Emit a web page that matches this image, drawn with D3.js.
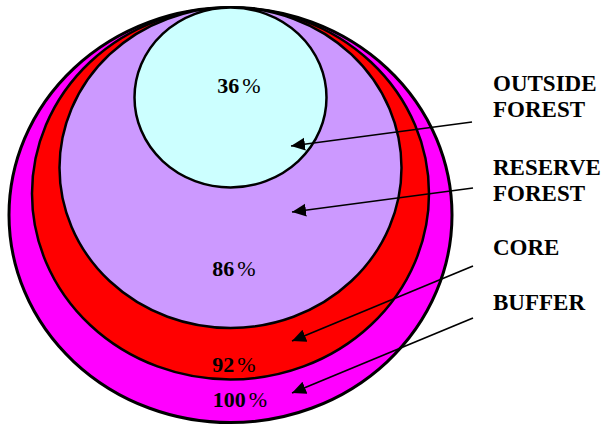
<!DOCTYPE html>
<html>
<head>
<meta charset="utf-8">
<script src="https://cdn.jsdelivr.net/npm/d3@7"></script>
<style>
  body { margin: 0; background: #ffffff; }
  svg { display: block; }
</style>
</head>
<body>
<div class="chart"></div>
<script>
// data
var categories = ["BUFFER", "CORE", "RESERVE FOREST", "OUTSIDE FOREST"];
var values = [100, 92, 86, 36];
var colors = ["#ff00ff", "#ff0000", "#cc99ff", "#ccffff"];
var labelLines = [["BUFFER"], ["CORE"], ["RESERVE", "FOREST"], ["OUTSIDE", "FOREST"]];

var width = 606, height = 428;
var cx = 230.5, topY = 7.5, aspect = 0.937;

// radius scale (nested circles, all touching at the top)
var r = d3.scaleLinear()
    .domain([36, 86, 92, 100])
    .range([96, 171, 198.5, 221.5]);

// annotation layout: label baseline, arrow start / tip, value text
var layout = [
  { labelY: 310, from: [473, 318], to: [292, 393], textX: 240, textY: 407 },
  { labelY: 255, from: [473, 266], to: [292, 341], textX: 234, textY: 372 },
  { labelY: 175, from: [473, 188], to: [292, 212], textX: 234, textY: 276 },
  { labelY: 91,  from: [472, 122], to: [291, 146], textX: 239, textY: 93 }
];

var data = categories.map(function(c, i) {
  return { name: c, value: values[i], color: colors[i], lines: labelLines[i], pos: layout[i] };
});

var svg = d3.select(".chart")
  .append("svg")
    .attr("width", width)
    .attr("height", height);

svg.append("defs").append("marker")
    .attr("id", "head")
    .attr("markerUnits", "userSpaceOnUse")
    .attr("viewBox", "0 -7 15 14")
    .attr("refX", 14)
    .attr("refY", 0)
    .attr("markerWidth", 15)
    .attr("markerHeight", 14)
    .attr("orient", "auto")
  .append("path")
    .attr("d", "M0,-6.5L14,0L0,6.5Z")
    .attr("fill", "#000");

// circles
svg.selectAll("ellipse")
  .data(data)
  .enter()
  .append("ellipse")
    .attr("cx", cx)
    .attr("cy", function(d) { return topY + r(d.value) * aspect; })
    .attr("rx", function(d) { return r(d.value); })
    .attr("ry", function(d) { return r(d.value) * aspect; })
    .attr("fill", function(d) { return d.color; })
    .attr("stroke", "#000")
    .attr("stroke-width", function(d, i) { return i == 0 ? 3 : 2.5; });

// value labels
var vals = svg.selectAll(".val")
  .data(data)
  .enter()
  .append("text")
    .attr("class", "val")
    .attr("x", function(d) { return d.pos.textX; })
    .attr("y", function(d) { return d.pos.textY; })
    .attr("text-anchor", "middle")
    .attr("font-family", "'Liberation Serif', 'Times New Roman', serif")
    .attr("font-size", "22px")
    .attr("fill", "#000");
vals.append("tspan")
    .attr("font-weight", "bold")
    .text(function(d) { return d.value; });
vals.append("tspan")
    .attr("dx", 3)
    .text("%");

// arrows
svg.selectAll(".arrow")
  .data(data)
  .enter()
  .append("line")
    .attr("class", "arrow")
    .attr("x1", function(d) { return d.pos.from[0]; })
    .attr("y1", function(d) { return d.pos.from[1]; })
    .attr("x2", function(d) { return d.pos.to[0]; })
    .attr("y2", function(d) { return d.pos.to[1]; })
    .attr("stroke", "#000")
    .attr("stroke-width", 1.7)
    .attr("marker-end", "url(#head)");

// category labels
var labels = svg.selectAll(".lbl")
  .data(data)
  .enter()
  .append("text")
    .attr("class", "lbl")
    .attr("x", 493)
    .attr("y", function(d) { return d.pos.labelY; })
    .attr("font-family", "'Liberation Serif', 'Times New Roman', serif")
    .attr("font-weight", "bold")
    .attr("font-size", "23px")
    .attr("fill", "#000");
labels.selectAll("tspan")
  .data(function(d) { return d.lines; })
  .enter()
  .append("tspan")
    .attr("x", 493)
    .attr("dy", function(d, i) { return i == 0 ? 0 : 26; })
    .text(function(d) { return d; });
</script>
</body>
</html>
